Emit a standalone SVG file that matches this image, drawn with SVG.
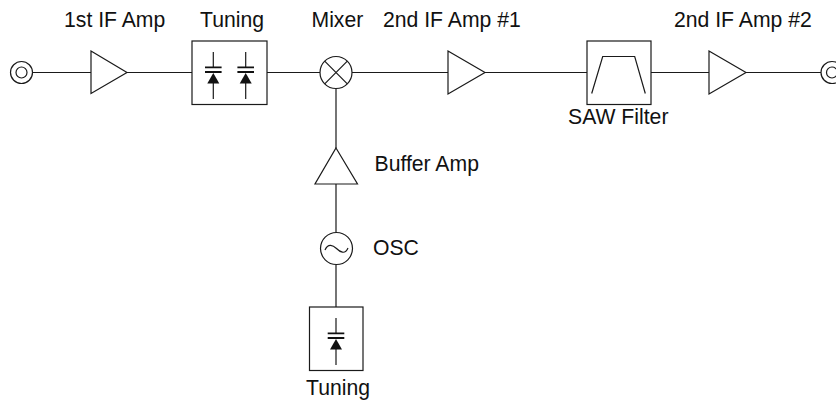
<svg xmlns="http://www.w3.org/2000/svg" width="836" height="401" viewBox="0 0 836 401">
<style>
.s{fill:#fff;stroke:#1a1a1a;stroke-width:1.2}
.l{fill:none;stroke:#1a1a1a;stroke-width:1.2}
.b{fill:none;stroke:#111;stroke-width:1.8}
.k{fill:#111;stroke:none}
text{font-family:"Liberation Sans",Arial,sans-serif;font-size:21.2px;fill:#111}
</style>
<defs>
<g id="vc">
<path class="l" d="M0-20V-5M0 6V27"/>
<path class="b" d="M-8.300-4.700H8.300M-8.300 0H8.300"/>
<path class="k" d="M-6 11.500H6L0 1Z"/>
</g>
</defs>
<g id="connectors">
<path class="l" d="M32.500 72.500H91M127 72.500H192M267 72.500H320M352 72.500H448M485 72.500H587M651 72.500H709M746 72.500H821M336 88.500V148M336 184V232.500M336 264.500V307"/>
</g>
<g id="input"><circle class="s" cx="21.500" cy="72.500" r="11"/><circle class="s" cx="21.500" cy="72.500" r="5.500"/></g>
<g id="if-amp-1"><path class="s" d="M91 51L127 72.500L91 93.500Z"/><text x="64" y="27">1st IF Amp</text></g>
<g id="tuning-1"><rect class="s" x="192" y="41" width="75" height="63.500"/><use href="#vc" x="213.300" y="72"/><use href="#vc" x="245.700" y="72"/><text x="200" y="27">Tuning</text></g>
<g id="mixer"><circle class="s" cx="336" cy="72.500" r="16"/><path class="l" d="M324.700 61.200L347.300 83.800M347.300 61.200L324.700 83.800"/><text x="311.500" y="27">Mixer</text></g>
<g id="if-amp-2-1"><path class="s" d="M448 51L485 72.500L448 94Z"/><text x="383" y="27">2nd IF Amp #1</text></g>
<g id="saw-filter"><rect class="s" x="587" y="41" width="64" height="63.500"/><path class="l" d="M591.700 93.500L602.700 56.500H634.700L645.300 93.500"/><text x="568" y="124">SAW Filter</text></g>
<g id="if-amp-2-2"><path class="s" d="M709 51L746 72.500L709 94Z"/><text x="674" y="27">2nd IF Amp #2</text></g>
<g id="output"><circle class="s" cx="832" cy="72.500" r="11"/><circle class="s" cx="832" cy="72.500" r="5.500"/></g>
<g id="buffer-amp"><path class="s" d="M336 148L357.500 184H315Z"/><text x="374.500" y="171">Buffer Amp</text></g>
<g id="osc"><circle class="s" cx="336.500" cy="248.500" r="16"/><path class="l" d="M325 250C328 243 333 245 336.500 248.500S345 255 348 248"/><text x="373" y="255">OSC</text></g>
<g id="tuning-2"><rect class="s" x="309.500" y="307" width="53.500" height="63.500"/><use href="#vc" x="336" y="338"/><text x="306" y="395">Tuning</text></g>
</svg>
